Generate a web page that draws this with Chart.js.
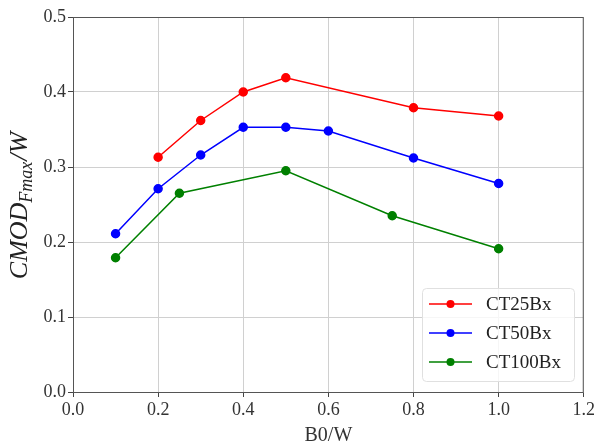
<!DOCTYPE html>
<html>
<head>
<meta charset="utf-8">
<script src="https://cdn.jsdelivr.net/npm/chart.js@4"></script>
<style>
  body { margin: 0; background: #fff; }
  #wrap { width: 597px; height: 448px; }
</style>
</head>
<body>
<div id="wrap"><canvas id="myChart"></canvas></div>
<script>
// data
const seriesNames = ['CT25Bx', 'CT50Bx', 'CT100Bx'];
const seriesColors = ['#ff0000', '#0000ff', '#008000'];

const ct25X = [0.2, 0.3, 0.4, 0.5, 0.8, 1.0];
const ct25Y = [0.313, 0.362, 0.400, 0.419, 0.379, 0.368];

const ct50X = [0.1, 0.2, 0.3, 0.4, 0.5, 0.6, 0.8, 1.0];
const ct50Y = [0.211, 0.271, 0.316, 0.353, 0.353, 0.348, 0.312, 0.278];

const ct100X = [0.1, 0.25, 0.5, 0.75, 1.0];
const ct100Y = [0.179, 0.265, 0.295, 0.235, 0.191];

const xTicks = [0.0, 0.2, 0.4, 0.6, 0.8, 1.0, 1.2];
const yTicks = [0.0, 0.1, 0.2, 0.3, 0.4, 0.5];

const FONT = '"Liberation Serif", "DejaVu Serif", serif';

function toPoints(xs, ys) {
    return xs.map((x, i) => ({ x: x, y: ys[i] }));
}

const allX = [ct25X, ct50X, ct100X];
const allY = [ct25Y, ct50Y, ct100Y];

const datasets = seriesNames.map((name, i) => ({
    label: name,
    data: toPoints(allX[i], allY[i]),
    borderColor: seriesColors[i],
    backgroundColor: seriesColors[i],
    borderWidth: 1.5,
    pointRadius: 4,
    pointHoverRadius: 4,
    showLine: true,
    tension: 0
}));

// frame, y title with subscript, and matplotlib-ish legend
const extras = {
    id: 'extras',
    afterDraw(chart) {
        const ctx = chart.ctx;
        const a = chart.chartArea;
        ctx.save();
        ctx.strokeStyle = '#555';
        ctx.lineWidth = 1;
        ctx.strokeRect(a.left + 0.5, a.top + 0.5, a.right - a.left - 1, a.bottom - a.top);

        // y axis title: CMOD_{Fmax}/W
        ctx.translate(20, 206);
        ctx.rotate(-Math.PI / 2);
        ctx.fillStyle = '#222';
        ctx.textBaseline = 'alphabetic';
        const big = 'italic 26px ' + FONT;
        const small = 'italic 18px ' + FONT;
        ctx.font = big;
        const w1 = ctx.measureText('CMOD').width;
        const w3 = ctx.measureText('/W').width;
        ctx.font = small;
        const w2 = ctx.measureText('Fmax').width;
        let x0 = -(w1 + w2 + w3) / 2;
        ctx.font = big;
        ctx.fillText('CMOD', x0, 7);
        ctx.font = small;
        ctx.fillText('Fmax', x0 + w1, 12);
        ctx.font = big;
        ctx.fillText('/W', x0 + w1 + w2 + 1, 7);
        ctx.restore();

        // legend box
        ctx.save();
        const bx = 422, by = 288, bw = 152, bh = 93;
        ctx.fillStyle = 'rgba(255,255,255,0.8)';
        ctx.strokeStyle = '#e0e0e0';
        ctx.lineWidth = 1;
        ctx.beginPath();
        ctx.roundRect(bx + 0.5, by + 0.5, bw, bh, 4);
        ctx.fill();
        ctx.stroke();
        ctx.font = '19px ' + FONT;
        ctx.textBaseline = 'middle';
        chart.data.datasets.forEach((ds, i) => {
            const yy = by + 16 + i * 29;
            ctx.strokeStyle = ds.borderColor;
            ctx.lineWidth = 1.5;
            ctx.beginPath();
            ctx.moveTo(429, yy);
            ctx.lineTo(472, yy);
            ctx.stroke();
            ctx.fillStyle = ds.borderColor;
            ctx.beginPath();
            ctx.arc(450.5, yy, 4, 0, Math.PI * 2);
            ctx.fill();
            ctx.fillStyle = '#222';
            ctx.fillText(ds.label, 486, yy + 1);
        });
        ctx.restore();
    }
};

const ctx = document.getElementById('myChart').getContext('2d');

const myChart = new Chart(ctx, {
    type: 'scatter',
    data: { datasets: datasets },
    options: {
        responsive: true,
        maintainAspectRatio: false,
        animation: false,
        layout: { padding: { left: 0, right: 12, top: 17, bottom: 0 } },
        plugins: {
            legend: { display: false },
            tooltip: { enabled: false }
        },
        scales: {
            x: {
                type: 'linear',
                min: 0,
                max: 1.2,
                afterBuildTicks: (s) => { s.ticks = xTicks.map(v => ({ value: v })); },
                afterFit: (s) => { s.height = 56; },
                ticks: {
                    callback: (v) => Number(v).toFixed(1),
                    font: { family: FONT, size: 18 },
                    color: '#333',
                    padding: 2
                },
                grid: { color: '#d0d0d0', tickColor: '#444', tickLength: 5 },
                border: { display: false },
                title: {
                    display: true,
                    text: 'B0/W',
                    font: { family: FONT, size: 20 },
                    color: '#333',
                    padding: { top: 0, bottom: 0 }
                }
            },
            y: {
                type: 'linear',
                min: 0,
                max: 0.5,
                afterBuildTicks: (s) => { s.ticks = yTicks.map(v => ({ value: v })); },
                afterFit: (s) => { s.width = 73; },
                ticks: {
                    callback: (v) => Number(v).toFixed(1),
                    font: { family: FONT, size: 18 },
                    color: '#333',
                    padding: 2
                },
                grid: { color: '#d0d0d0', tickColor: '#444', tickLength: 5 },
                border: { display: false }
            }
        }
    },
    plugins: [extras]
});
</script>
</body>
</html>
